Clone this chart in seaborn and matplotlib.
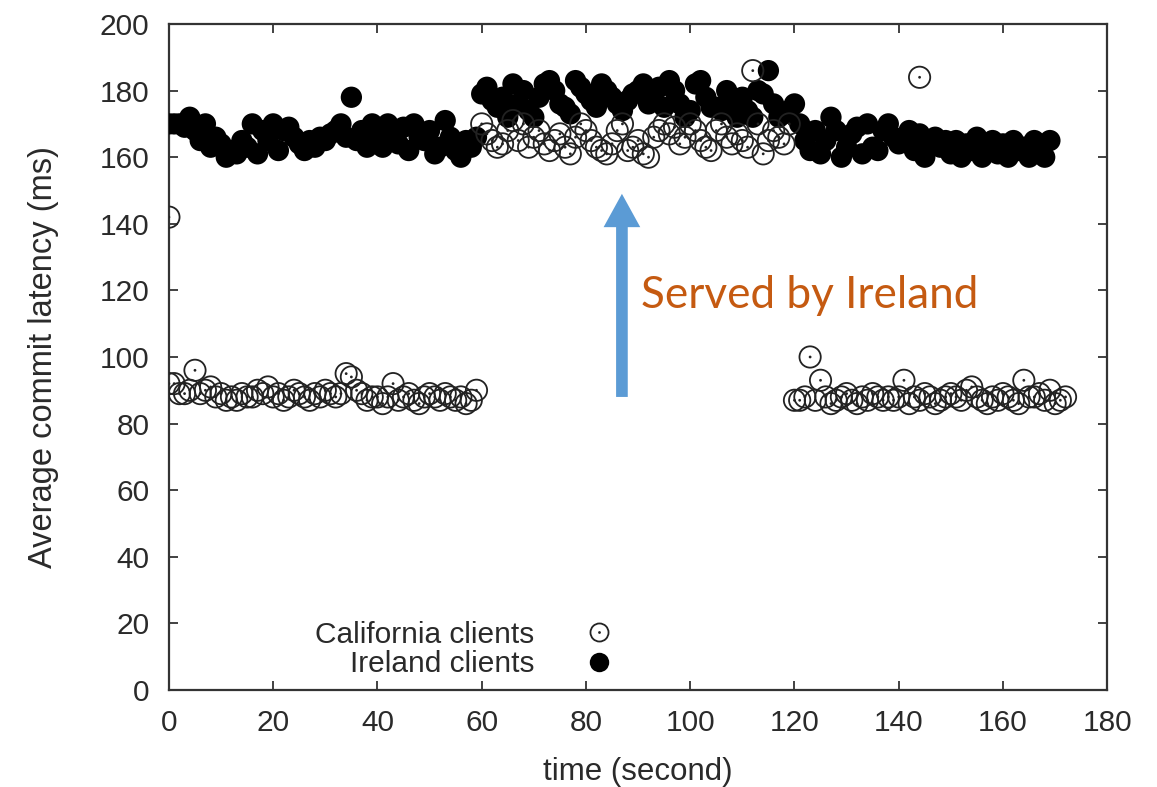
import numpy as np
import pandas as pd
import matplotlib
matplotlib.use("Agg")
import matplotlib.pyplot as plt
import seaborn as sns
from matplotlib.lines import Line2D
from matplotlib.legend_handler import HandlerTuple

# ---- data: average commit latency (ms), one sample per second ----
ireland_phase1 = [170, 170, 170, 169, 172, 168, 165, 170, 163, 166,
                  164, 160, 162, 161, 165, 163, 170, 161, 168, 165,
                  170, 162, 168, 169, 166, 164, 162, 165, 163, 166,
                  165, 167, 168, 170, 166, 178, 165, 168, 163, 170,
                  167, 163, 170, 165, 164, 169, 162, 170, 166, 165,
                  168, 161, 163, 171, 166, 162, 160, 165, 163, 166]
ireland_phase2 = [179, 181, 177, 175, 178, 172, 182, 176, 180, 174,
                  172, 178, 182, 183, 180, 176, 175, 173, 183, 181,
                  179, 177, 175, 182, 180, 178, 176, 174, 177, 179,
                  180, 182, 176, 178, 181, 175, 183, 180, 176, 172,
                  174, 182, 183, 178, 175, 175, 174, 180, 177, 172,
                  178, 174, 172, 180, 179, 186, 176, 172, 173, 174]
ireland_phase3 = [176, 170, 165, 162, 168, 161, 165, 172, 168, 160,
                  163, 167, 169, 161, 170, 163, 162, 168, 170, 166,
                  164, 165, 168, 162, 167, 160, 164, 166, 163, 165,
                  161, 165, 160, 164, 162, 166, 160, 163, 165, 161,
                  164, 160, 165, 162, 163, 160, 165, 162, 160, 165]

california_phase1 = [92, 92, 89, 89, 90, 96, 89, 90, 91, 88,
                     89, 87, 88, 87, 89, 88, 88, 90, 89, 91,
                     88, 89, 87, 88, 90, 89, 88, 87, 89, 88,
                     90, 89, 88, 89, 95, 94, 90, 89, 87, 88,
                     88, 86, 88, 92, 87, 88, 89, 87, 86, 88,
                     89, 88, 87, 89, 88, 87, 88, 86, 87, 90]
california_phase2 = [170, 167, 165, 163, 164, 168, 171, 165, 170, 163,
                     166, 168, 164, 162, 165, 167, 163, 161, 166, 170,
                     168, 165, 163, 162, 161, 164, 168, 170, 162, 163,
                     165, 161, 160, 166, 168, 170, 167, 169, 164, 166,
                     170, 168, 165, 163, 162, 168, 170, 166, 164, 167,
                     165, 163, 186, 170, 161, 165, 168, 166, 164, 170]
california_phase3 = [87, 87, 88, 100, 87, 93, 88, 86, 87, 88,
                     89, 87, 86, 88, 87, 89, 88, 87, 88, 87,
                     88, 93, 86, 88, 87, 89, 88, 86, 87, 88,
                     89, 88, 87, 90, 91, 88, 87, 86, 88, 87,
                     89, 88, 87, 86, 93, 88, 88, 89, 87, 90,
                     86, 87, 88]
california_extra_time = [0, 144]
california_extra_latency = [142, 184]

x_ticks = [0, 20, 40, 60, 80, 100, 120, 140, 160, 180]
y_ticks = [0, 20, 40, 60, 80, 100, 120, 140, 160, 180, 200]

ireland = np.array(ireland_phase1 + ireland_phase2 + ireland_phase3, dtype=float)
ireland_df = pd.DataFrame({"time": np.arange(len(ireland)), "latency": ireland})

california = np.array(california_phase1 + california_phase2 + california_phase3, dtype=float)
california_df = pd.DataFrame({
    "time": np.concatenate([np.arange(len(california)), california_extra_time]),
    "latency": np.concatenate([california, california_extra_latency]),
})

# ---- style ----
sns.set_theme(style="ticks")
plt.rcParams["font.family"] = ["Liberation Sans", "DejaVu Sans"]

fig = plt.figure(figsize=(11.57, 7.87), dpi=100)
ax = fig.add_axes([0.146, 0.1233, 0.811, 0.8462])

ink = "#222222"
sns.scatterplot(data=ireland_df, x="time", y="latency", ax=ax, s=235,
                color="black", edgecolor="none", linewidth=0, zorder=3)
sns.scatterplot(data=california_df, x="time", y="latency", ax=ax, s=235,
                facecolor="none", edgecolor=ink, linewidth=1.3, zorder=4)
sns.scatterplot(data=california_df, x="time", y="latency", ax=ax, s=4,
                color=ink, edgecolor="none", linewidth=0, zorder=5)

ax.set_xlim(0, 180)
ax.set_ylim(0, 200)
ax.set_xticks(x_ticks)
ax.set_yticks(y_ticks)
ax.tick_params(direction="in", length=6.5, width=1.3, colors="#333333",
               labelcolor="#2a2a2a", labelsize=21.5, top=True, right=True)
ax.tick_params(axis="x", pad=14)
ax.tick_params(axis="y", pad=14)
for side in ax.spines.values():
    side.set_color("#333333")
    side.set_linewidth(1.6)

ax.set_xlabel("time (second)", fontsize=22.5, color="#2a2a2a", labelpad=14)
ax.set_ylabel("Average commit latency (ms)", fontsize=23.5, color="#2a2a2a", labelpad=29)

# annotation arrow and caption
ax.annotate("", xy=(86.9, 149), xytext=(86.9, 88),
            arrowprops=dict(arrowstyle="simple,head_width=2.2,head_length=2.0,tail_width=0.7",
                            color="#5B9BD5", lw=0, shrinkA=0, shrinkB=0), zorder=6)
ax.text(90.5, 118.5, "Served by Ireland", fontsize=31.8, color="#C55A11",
        family=["Lato", "DejaVu Sans"], ha="left", va="center", zorder=6)

# legend: label on the left, symbol on the right
cal_handle = (Line2D([], [], marker="o", linestyle="none", markersize=13,
                     markerfacecolor="none", markeredgecolor=ink, markeredgewidth=1.3),
              Line2D([], [], marker="o", linestyle="none", markersize=2,
                     markerfacecolor=ink, markeredgecolor="none"))
ire_handle = Line2D([], [], marker="o", linestyle="none", markersize=14,
                    markerfacecolor="black", markeredgecolor="none")
ax.legend([cal_handle, ire_handle], ["California clients", "Ireland clients"],
          handler_map={tuple: HandlerTuple(ndivide=1)},
          markerfirst=False, frameon=False, fontsize=21.5, labelcolor="#2a2a2a",
          loc="center", bbox_to_anchor=(0.315, 0.061), handlelength=1.0,
          handletextpad=1.65, labelspacing=0.05, alignment="right")

fig.savefig("out.png", dpi=100)
